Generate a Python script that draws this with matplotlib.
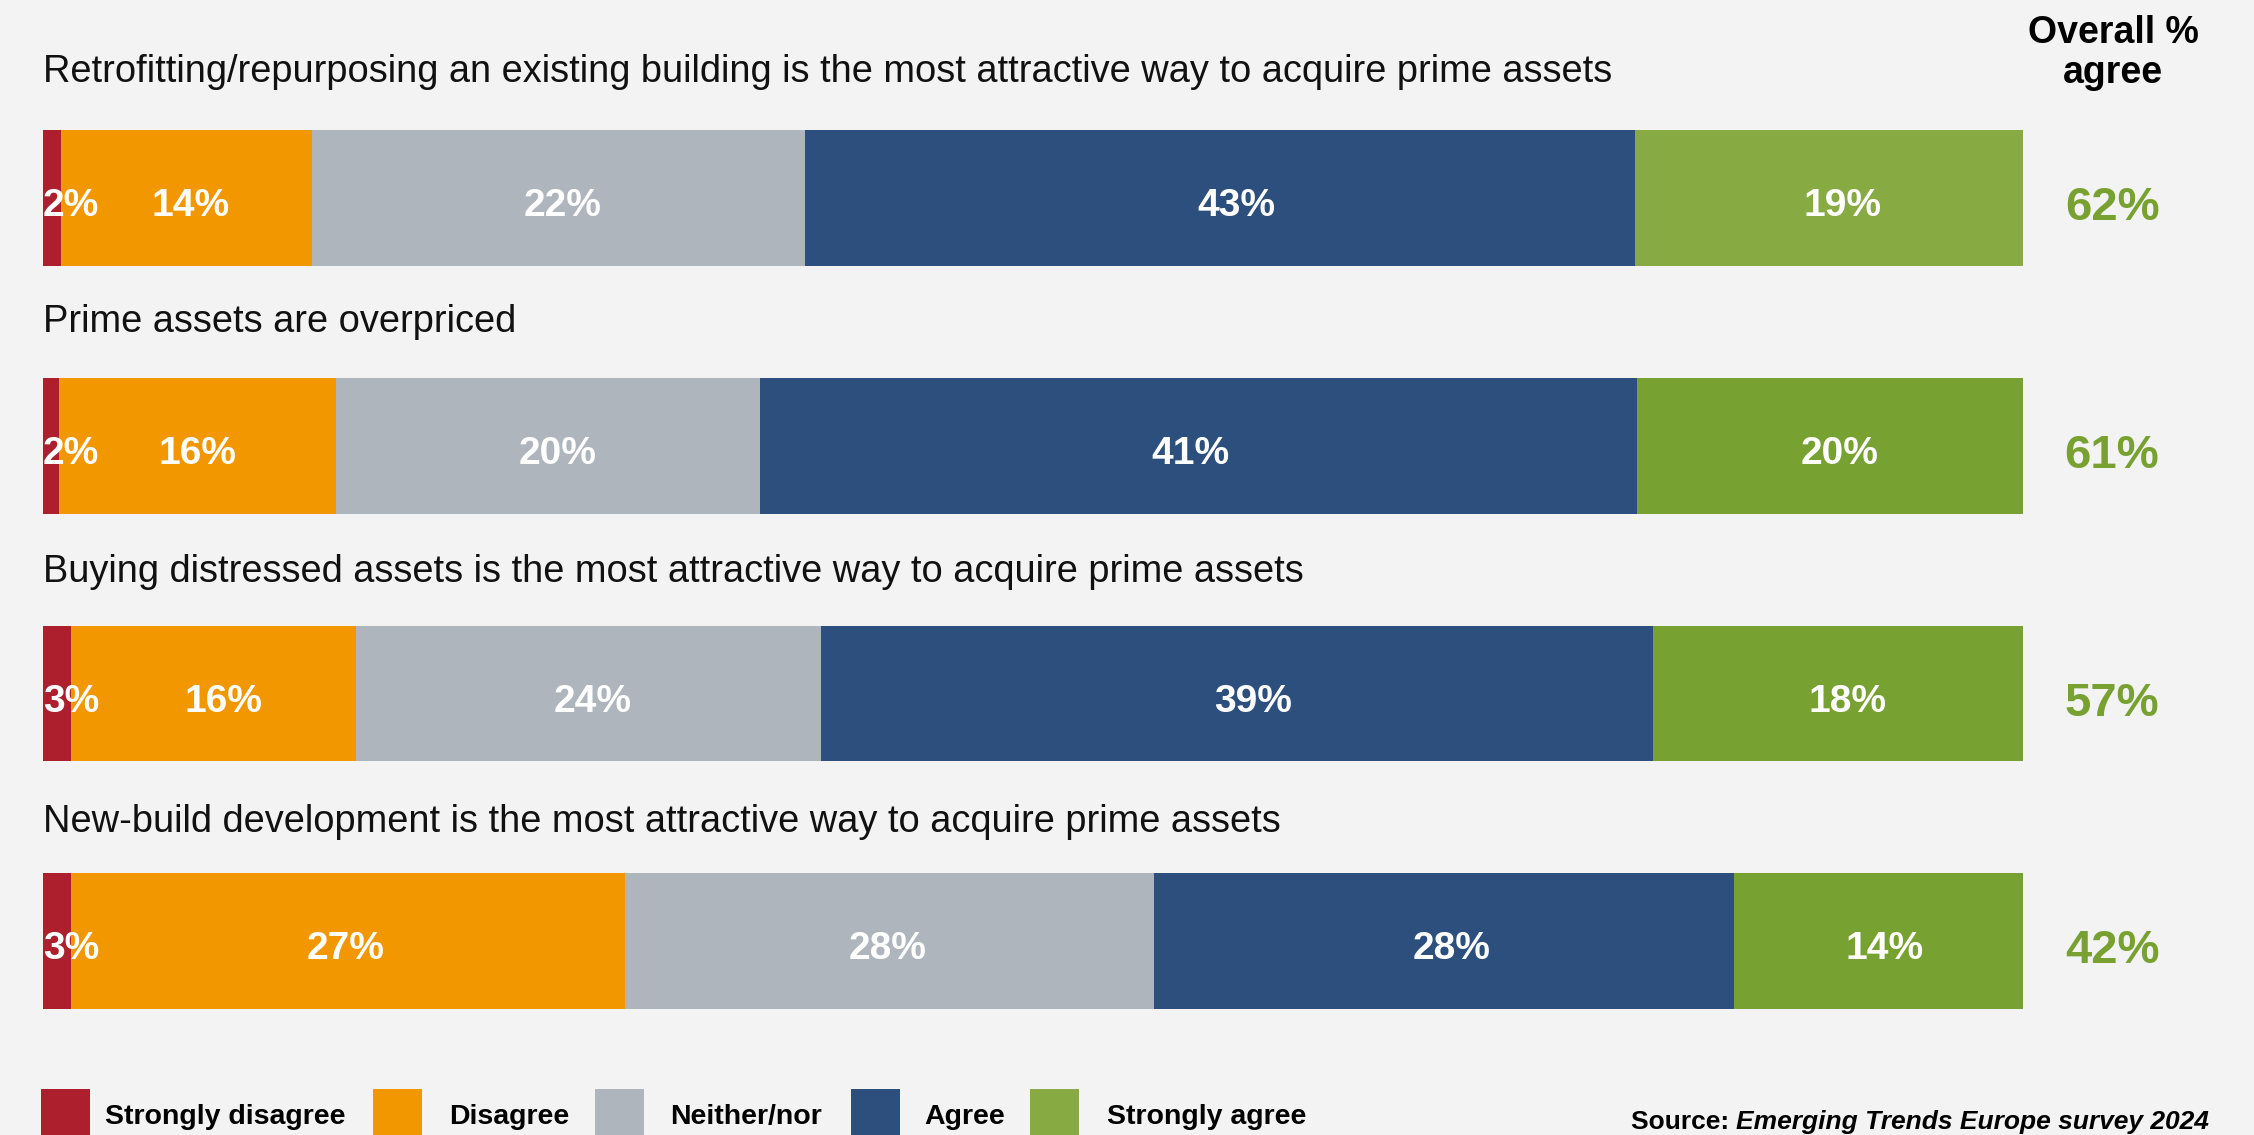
import matplotlib.pyplot as plt
from matplotlib.patches import Rectangle
import numpy as np

plt.rcParams['font.family'] = ['Liberation Sans', 'DejaVu Sans']

statements = [
    'Retrofitting/repurposing an existing building is the most attractive way to acquire prime assets',
    'Prime assets are overpriced',
    'Buying distressed assets is the most attractive way to acquire prime assets',
    'New-build development is the most attractive way to acquire prime assets',
]
categories = ['Strongly disagree', 'Disagree', 'Neither/nor', 'Agree', 'Strongly agree']

# segment widths as drawn in the chart (% of bar)
strongly_disagree = [0.9, 0.8, 1.4, 1.4]
disagree = [12.7, 14.0, 14.4, 28.0]
neither = [24.9, 21.4, 23.5, 26.7]
agree = [41.9, 44.3, 42.0, 29.3]
strongly_agree = [19.6, 19.5, 18.7, 14.6]

# printed percentages
lab_strongly_disagree = [2, 2, 3, 3]
lab_disagree = [14, 16, 16, 27]
lab_neither = [22, 20, 24, 28]
lab_agree = [43, 41, 39, 28]
lab_strongly_agree = [19, 20, 18, 14]
overall_agree = [62, 61, 57, 42]

colors = ['#AE1F2E', '#F39700', '#AFB5BC', '#2C4F7E', '#87AA43']
green_rows = ['#87AA43', '#77A131', '#77A131', '#77A131']
bg = '#F3F3F3'

# small horizontal shifts of the labels off the segment centre (x units), per row
label_nudge = [
    [0, 0.2, 0.2, 0.8, 0.7],
    [0, 0.0, 0.5, -0.4, 0.5],
    [0, 0.5, 0.2, 0.8, 0.5],
    [0, -0.1, -0.1, 0.4, 0.3],
]

W, H = 2254, 1135
fig = plt.figure(figsize=(W / 100, H / 100), dpi=100, facecolor=bg)
ax = fig.add_axes([43 / W, 1 - 1065 / H, 1980 / W, 1065 / H])
ax.set_xlim(0, 100)
ax.set_ylim(3.5, -0.8)
ax.axis('off')

y = np.arange(len(statements))
left = np.zeros(len(statements))
series = [strongly_disagree, disagree, neither, agree, strongly_agree]
labels = [lab_strongly_disagree, lab_disagree, lab_neither, lab_agree, lab_strongly_agree]

for k, (vals, labs) in enumerate(zip(series, labels)):
    vals = np.array(vals)
    col = green_rows if k == 4 else colors[k]
    ax.barh(y, vals, left=left, height=0.549, color=col, linewidth=0)
    for i in range(len(y)):
        if k == 0:
            ax.text(left[i], y[i] + 0.073, f'{labs[i]}%', ha='left', va='baseline',
                    color='white', fontsize=28, fontweight='bold')
        else:
            ax.text(left[i] + vals[i] / 2 + label_nudge[i][k], y[i] + 0.073,
                    f'{labs[i]}%', ha='center', va='baseline', color='white',
                    fontsize=28, fontweight='bold')
    left += vals

for i, s in enumerate(statements):
    ax.text(0, y[i] - 0.468 + 0.0093 * i, s, ha='left', va='baseline', fontsize=27.4,
            color='#111111')
    ax.text(104.5, y[i] + 0.09, f'{overall_agree[i]}%', ha='center', va='baseline',
            fontsize=34, fontweight='bold', color='#78A132')

fig.text(2113 / W, 1 - 43 / H, 'Overall %', ha='center', va='baseline',
         fontsize=27, fontweight='bold')
fig.text(2113 / W, 1 - 83 / H, 'agree', ha='center', va='baseline',
         fontsize=27, fontweight='bold')

# legend, laid out by hand (pixel positions)
leg_box_x = [41, 373, 595, 851, 1030]
leg_text_x = [105, 449, 670, 924, 1107]
for c, name, bx, tx in zip(colors, categories, leg_box_x, leg_text_x):
    fig.patches.append(Rectangle((bx / W, 1 - 1138 / H), 49 / W, 49 / H,
                                 transform=fig.transFigure, facecolor=c, linewidth=0))
    fig.text(tx / W, 1 - 1124 / H, name, ha='left', va='baseline',
             fontsize=20.5, fontweight='bold')

t = fig.text(2209 / W, 1 - 1129 / H, 'Emerging Trends Europe survey 2024', ha='right',
             va='baseline', fontsize=19, fontweight='bold', style='italic')
ax.annotate('Source: ', xy=(0, 0), xycoords=t, ha='right', va='bottom',
            fontsize=19, fontweight='bold')

fig.savefig('out.png', dpi=100, facecolor=fig.get_facecolor())
